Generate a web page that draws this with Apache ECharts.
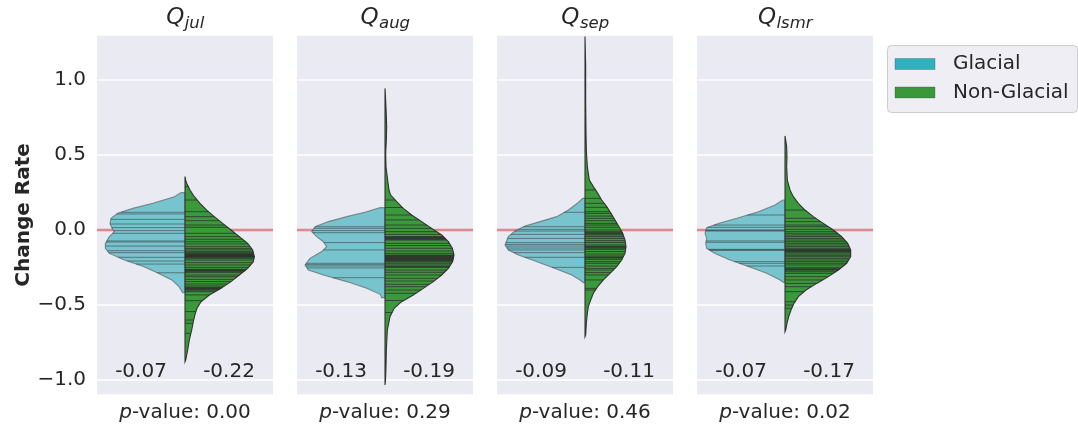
<!DOCTYPE html>
<html>
<head>
<meta charset="utf-8">
<title>Change Rate</title>
<script src="https://cdn.jsdelivr.net/npm/echarts@6/dist/echarts.min.js"></script>
<style>
  html, body { margin: 0; padding: 0; background: #ffffff; }
  #chart { width: 1078px; height: 425px; }
</style>
</head>
<body>
<div id="chart"></div>
<script>
// ---- data -------------------------------------------------------------
const months = ['jul', 'aug', 'sep', 'lsmr'];
const groupNames = ['Glacial', 'Non-Glacial'];
const medianGlacial = ['-0.07', '-0.13', '-0.09', '-0.07'];
const medianNonGlacial = ['-0.22', '-0.19', '-0.11', '-0.17'];
const pValues = ['0.00', '0.29', '0.46', '0.02'];
const yTicks = [-1.0, -0.5, 0.0, 0.5, 1.0];

// violin outlines: [change rate, kernel density half-width], top to bottom
const julGlacialShape = [[0.249,0.12],[0.222,0.32],[0.178,0.97],[0.144,1.57],[0.111,2.02],[0.078,2.22],[0.044,2.25],[0.011,2.19],[-0.011,2.12],[-0.044,2.27],[-0.089,2.39],[-0.122,2.39],[-0.156,2.27],[-0.2,1.82],[-0.244,1.25],[-0.289,0.8],[-0.333,0.4],[-0.378,0.18],[-0.418,0.07]];
const julNonGlacialShape = [[0.356,0.0],[0.333,0.02],[0.311,0.05],[0.267,0.15],[0.222,0.28],[0.178,0.45],[0.133,0.65],[0.089,0.88],[0.044,1.13],[0.0,1.38],[-0.044,1.63],[-0.089,1.88],[-0.133,2.03],[-0.178,2.08],[-0.211,2.05],[-0.256,1.88],[-0.3,1.63],[-0.344,1.38],[-0.389,1.08],[-0.433,0.73],[-0.478,0.48],[-0.522,0.36],[-0.556,0.31],[-0.6,0.26],[-0.667,0.2],[-0.733,0.13],[-0.8,0.08],[-0.867,0.02],[-0.878,0.0]];
const augGlacialShape = [[0.149,0.15],[0.122,0.55],[0.089,1.15],[0.056,1.7],[0.022,2.1],[-0.011,2.2],[-0.044,2.05],[-0.078,1.85],[-0.111,1.75],[-0.144,1.9],[-0.189,2.25],[-0.233,2.4],[-0.267,2.3],[-0.3,1.85],[-0.344,1.15],[-0.389,0.55],[-0.429,0.15],[-0.451,0.1]];
const augNonGlacialShape = [[0.944,0.0],[0.867,0.02],[0.756,0.04],[0.689,0.05],[0.6,0.04],[0.511,0.02],[0.422,0.03],[0.333,0.08],[0.267,0.12],[0.233,0.17],[0.189,0.35],[0.144,0.55],[0.1,0.8],[0.056,1.1],[0.011,1.4],[-0.033,1.7],[-0.078,1.9],[-0.122,2.02],[-0.167,2.07],[-0.211,2.03],[-0.256,1.9],[-0.3,1.7],[-0.344,1.45],[-0.389,1.15],[-0.433,0.85],[-0.478,0.5],[-0.52,0.28],[-0.578,0.15],[-0.667,0.07],[-0.8,0.04],[-0.911,0.03],[-1.0,0.015],[-1.033,0.0]];
const sepGlacialShape = [[0.211,0.07],[0.178,0.23],[0.133,0.5],[0.089,0.85],[0.056,1.35],[0.027,1.8],[-0.007,2.1],[-0.044,2.3],[-0.1,2.4],[-0.133,2.3],[-0.167,2.0],[-0.207,1.5],[-0.256,0.9],[-0.3,0.4],[-0.333,0.15],[-0.351,0.05]];
const sepNonGlacialShape = [[1.29,0.0],[1.1,0.02],[0.867,0.02],[0.644,0.03],[0.533,0.04],[0.422,0.07],[0.333,0.13],[0.289,0.25],[0.249,0.37],[0.2,0.5],[0.156,0.65],[0.111,0.78],[0.067,0.9],[0.022,1.02],[-0.022,1.13],[-0.067,1.2],[-0.111,1.23],[-0.156,1.2],[-0.2,1.1],[-0.244,0.95],[-0.289,0.75],[-0.333,0.55],[-0.378,0.38],[-0.422,0.25],[-0.467,0.17],[-0.511,0.1],[-0.556,0.07],[-0.622,0.04],[-0.7,0.02],[-0.711,0.0]];
const lsmrGlacialShape = [[0.2,0.07],[0.167,0.3],[0.122,0.8],[0.078,1.45],[0.044,2.0],[0.016,2.35],[-0.022,2.4],[-0.056,2.35],[-0.089,2.38],[-0.122,2.35],[-0.156,2.1],[-0.2,1.65],[-0.244,1.1],[-0.289,0.55],[-0.333,0.15],[-0.349,0.05]];
const lsmrNonGlacialShape = [[0.627,0.0],[0.556,0.05],[0.489,0.06],[0.422,0.05],[0.333,0.07],[0.267,0.15],[0.222,0.25],[0.178,0.4],[0.133,0.6],[0.089,0.85],[0.044,1.15],[0.0,1.45],[-0.044,1.7],[-0.089,1.88],[-0.133,1.97],[-0.178,1.97],[-0.222,1.85],[-0.267,1.6],[-0.311,1.3],[-0.356,0.95],[-0.4,0.63],[-0.444,0.4],[-0.489,0.27],[-0.533,0.18],[-0.578,0.11],[-0.622,0.06],[-0.667,0.02],[-0.678,0.0]];

// individual observations (drawn as sticks inside each half violin)
const julGlacialObs = [0.118,0.107,0.071,0.04,0.016,-0.004,-0.022,-0.073,-0.08,-0.107,-0.138,-0.151,-0.182,-0.207,-0.227,-0.285];
const julNonGlacialObs = [0.289,0.2,0.122,0.089,0.062,0.033,0.018,-0.022,-0.044,-0.062,-0.078,-0.093,-0.111,-0.124,-0.133,-0.144,-0.151,-0.158,-0.16,-0.164,-0.166,-0.169,-0.171,-0.173,-0.176,-0.178,-0.18,-0.182,-0.191,-0.2,-0.218,-0.233,-0.249,-0.262,-0.266,-0.269,-0.272,-0.276,-0.284,-0.3,-0.311,-0.329,-0.344,-0.36,-0.373,-0.382,-0.386,-0.389,-0.393,-0.396,-0.402,-0.411,-0.433,-0.471,-0.544,-0.6,-0.622,-0.689];
const augGlacialObs = [0.022,0.011,-0.004,-0.018,-0.084,-0.133,-0.222,-0.231,-0.24,-0.253,-0.318];
const augNonGlacialObs = [0.72,0.2,0.15,0.1,0.067,0.033,0.011,-0.011,-0.029,-0.044,-0.048,-0.051,-0.055,-0.058,-0.062,-0.067,-0.089,-0.104,-0.122,-0.14,-0.156,-0.167,-0.17,-0.173,-0.177,-0.18,-0.184,-0.187,-0.19,-0.193,-0.197,-0.2,-0.204,-0.207,-0.213,-0.222,-0.233,-0.242,-0.246,-0.249,-0.267,-0.282,-0.3,-0.322,-0.34,-0.362,-0.378,-0.4,-0.422,-0.47,-0.55,-0.9];
const sepGlacialObs = [0.118,0.022,0.004,-0.007,-0.029,-0.056,-0.084,-0.096,-0.107,-0.12,-0.133,-0.151,-0.182,-0.249];
const sepNonGlacialObs = [0.267,0.211,0.178,0.151,0.122,0.111,0.093,0.078,0.062,0.044,0.033,0.018,0.0,-0.011,-0.018,-0.022,-0.027,-0.033,-0.044,-0.056,-0.071,-0.084,-0.1,-0.109,-0.112,-0.116,-0.122,-0.129,-0.144,-0.16,-0.173,-0.18,-0.184,-0.187,-0.196,-0.211,-0.222,-0.24,-0.256,-0.267,-0.284,-0.3,-0.333,-0.389,-0.4];
const lsmrGlacialObs = [0.1,0.033,0.018,0.0,-0.003,-0.007,-0.073,-0.082,-0.129,-0.132,-0.136,-0.211,-0.222,-0.24];
const lsmrNonGlacialObs = [0.133,0.078,0.056,0.033,0.022,0.004,-0.011,-0.022,-0.033,-0.044,-0.056,-0.067,-0.078,-0.089,-0.1,-0.111,-0.122,-0.129,-0.133,-0.136,-0.138,-0.141,-0.144,-0.151,-0.16,-0.169,-0.178,-0.189,-0.2,-0.211,-0.222,-0.233,-0.249,-0.258,-0.262,-0.265,-0.267,-0.278,-0.289,-0.311,-0.333,-0.356,-0.378,-0.411,-0.478,-0.5,-0.522];

// ---- layout & style ----------------------------------------------------
const shapes = [
  [julGlacialShape, julNonGlacialShape],
  [augGlacialShape, augNonGlacialShape],
  [sepGlacialShape, sepNonGlacialShape],
  [lsmrGlacialShape, lsmrNonGlacialShape]
];
const observations = [
  [julGlacialObs, julNonGlacialObs],
  [augGlacialObs, augNonGlacialObs],
  [sepGlacialObs, sepNonGlacialObs],
  [lsmrGlacialObs, lsmrNonGlacialObs]
];

const FONT = '"DejaVu Sans", "Liberation Sans", sans-serif';
const TEXT = '#262626';
const GRID_LEFT = [97, 297, 497, 697];
const GRID_TOP = 35, GRID_W = 176, GRID_H = 360;
const HALF = 2.64;          // density units from the centre to a panel edge
const Y_MIN = -1.1, Y_MAX = 1.3;

const swatchColors = ['#2fb1bf', '#3a983a'];
const fillColors = ['#77c4cf', '#3b993b'];
const outlineColors = ['rgba(70,70,70,0.55)', '#333333'];
const stickColors = ['rgba(55,55,55,0.55)', 'rgba(45,45,45,0.75)'];

function halfWidthAt(shape, v) {
  for (let k = 0; k < shape.length - 1; k++) {
    const a = shape[k], b = shape[k + 1];
    if (v <= a[0] && v >= b[0]) {
      const t = (a[0] - v) / ((a[0] - b[0]) || 1);
      return a[1] + (b[1] - a[1]) * t;
    }
  }
  return 0;
}

function fmtTick(v) {
  const r = Math.round(v * 10) / 10;
  if (!yTicks.some(t => Math.abs(t - r) < 1e-9) || Math.abs(v - r) > 1e-6) return '';
  const s = Math.abs(r).toFixed(1);
  return r < 0 ? '\u2212' + s : s;
}

const grids = [], xAxes = [], yAxes = [], series = [];

months.forEach((m, i) => {
  grids.push({
    left: GRID_LEFT[i], top: GRID_TOP, width: GRID_W, height: GRID_H,
    show: true, backgroundColor: '#eaeaf2', borderWidth: 0
  });
  xAxes.push({
    gridIndex: i, type: 'value', min: -HALF, max: HALF,
    show: false
  });
  yAxes.push({
    gridIndex: i, type: 'value', min: Y_MIN, max: Y_MAX, splitNumber: 5,
    axisLine: { show: false }, axisTick: { show: false },
    axisLabel: {
      show: i === 0, fontSize: 20, fontFamily: FONT, color: TEXT, margin: 11,
      showMinLabel: false, showMaxLabel: false, formatter: fmtTick
    },
    splitLine: { show: true, lineStyle: { color: '#ffffff', width: 1.5 } },
    name: i === 0 ? 'Change Rate' : '',
    nameLocation: 'middle', nameGap: 63, nameRotate: 90,
    nameTextStyle: { fontSize: 20, fontWeight: 'bold', fontFamily: FONT, color: TEXT }
  });

  // zero reference line
  series.push({
    type: 'line', xAxisIndex: i, yAxisIndex: i, z: 1, silent: true,
    symbol: 'none', animation: false,
    data: [[-HALF, 0], [HALF, 0]],
    lineStyle: { color: '#e0898d', width: 2.5 }
  });

  [0, 1].forEach(g => {
    const side = g === 0 ? -1 : 1;
    const shape = shapes[i][g];
    // half violin body
    series.push({
      type: 'custom', name: groupNames[g], xAxisIndex: i, yAxisIndex: i,
      z: 2 + g * 2, clip: true, silent: true, animation: false,
      itemStyle: { color: swatchColors[g] },
      data: [[0, 0]],
      renderItem: function (params, api) {
        const pts = [api.coord([0, shape[0][0]])];
        shape.forEach(p => pts.push(api.coord([side * p[1], p[0]])));
        pts.push(api.coord([0, shape[shape.length - 1][0]]));
        return {
          type: 'polygon', shape: { points: pts },
          style: { fill: fillColors[g], stroke: outlineColors[g], lineWidth: 1.1 }
        };
      }
    });
    // observation sticks
    series.push({
      type: 'custom', name: groupNames[g], xAxisIndex: i, yAxisIndex: i,
      z: 3 + g * 2, clip: true, silent: true, animation: false,
      itemStyle: { color: swatchColors[g] },
      data: observations[i][g].map(v => [0, v]),
      renderItem: function (params, api) {
        const v = api.value(1);
        const w = halfWidthAt(shape, v);
        const p0 = api.coord([0, v]);
        const p1 = api.coord([side * w, v]);
        return {
          type: 'line',
          shape: { x1: p0[0], y1: p0[1], x2: p1[0], y2: p1[1] },
          style: { stroke: stickColors[g], lineWidth: 1 }
        };
      }
    });
  });

  // group medians written under each half
  const labels = [medianGlacial[i], medianNonGlacial[i]];
  series.push({
    type: 'custom', xAxisIndex: i, yAxisIndex: i, z: 10, silent: true, animation: false,
    data: [[-HALF / 2, -0.945], [HALF / 2, -0.945]],
    renderItem: function (params, api) {
      const p = api.coord([api.value(0), api.value(1)]);
      return {
        type: 'text',
        style: {
          text: labels[params.dataIndex], x: p[0], y: p[1],
          align: 'center', verticalAlign: 'middle',
          font: '20px ' + FONT, fill: TEXT
        }
      };
    }
  });
});

// ---- titles, p-values and legend as graphics ---------------------------
const measureCtx = document.createElement('canvas').getContext('2d');
function textWidth(str, font) { measureCtx.font = font; return measureCtx.measureText(str).width; }

const graphics = [];
const qFont = 'italic 23px ' + FONT;
const subFont = 'italic 16.5px ' + FONT;
months.forEach((m, i) => {
  const cx = GRID_LEFT[i] + GRID_W / 2;
  const wq = textWidth('Q', qFont), ws = textWidth(m, subFont);
  const x0 = cx - (wq + ws) / 2;
  // Q with an italic subscript
  graphics.push({
    type: 'text', silent: true, x: x0, y: 18,
    style: { text: 'Q', font: qFont, fill: TEXT, verticalAlign: 'middle' }
  });
  graphics.push({
    type: 'text', silent: true, x: x0 + wq + 0.5, y: 24,
    style: { text: m, font: subFont, fill: TEXT, verticalAlign: 'middle' }
  });
  graphics.push({
    type: 'text', silent: true, x: cx, y: 413,
    style: {
      text: '{i|p}{n|-value: ' + pValues[i] + '}',
      align: 'center', verticalAlign: 'middle',
      rich: {
        i: { fontStyle: 'italic', fontSize: 20, fontFamily: FONT, fill: TEXT },
        n: { fontSize: 20, fontFamily: FONT, fill: TEXT }
      }
    }
  });
});

// legend box
graphics.push({
  type: 'rect', silent: true,
  shape: { x: 887.5, y: 45.5, width: 190, height: 67, r: 4 },
  style: { fill: '#eeeef4', stroke: '#cccccc', lineWidth: 1 }
});
groupNames.forEach((name, g) => {
  const cy = 64 + g * 28.5;
  graphics.push({
    type: 'rect', silent: true,
    shape: { x: 895, y: cy - 5.5, width: 40, height: 11 },
    style: { fill: swatchColors[g], stroke: 'rgba(60,60,60,0.5)', lineWidth: 0.6 }
  });
  graphics.push({
    type: 'text', silent: true, x: 953, y: cy,
    style: { text: name, font: '20px ' + FONT, fill: TEXT, verticalAlign: 'middle' }
  });
});

const chart = echarts.init(document.getElementById('chart'), null, { renderer: 'canvas' });
chart.setOption({
  animation: false,
  backgroundColor: '#ffffff',
  grid: grids,
  xAxis: xAxes,
  yAxis: yAxes,
  series: series,
  graphic: { elements: graphics }
});
</script>
</body>
</html>
